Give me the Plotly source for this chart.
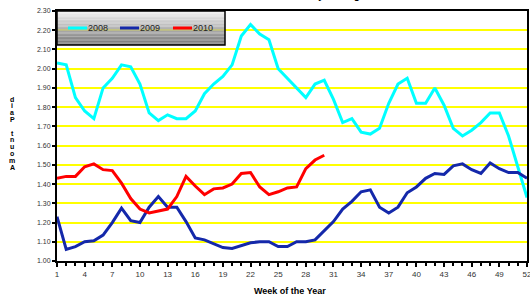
import plotly.graph_objects as go

weeks = list(range(1, 53))

y2008 = [2.03, 2.02, 1.85, 1.78, 1.74, 1.90, 1.95, 2.02, 2.01, 1.92,
         1.77, 1.73, 1.76, 1.74, 1.74, 1.78, 1.87, 1.92, 1.96, 2.02,
         2.17, 2.23, 2.18, 2.15, 2.00, 1.95, 1.90, 1.85, 1.92, 1.94,
         1.84, 1.72, 1.74, 1.67, 1.66, 1.69, 1.82, 1.92, 1.95, 1.82,
         1.82, 1.90, 1.81, 1.69, 1.65, 1.68, 1.72, 1.77, 1.77, 1.65,
         1.49, 1.33]
y2009 = [1.23, 1.06, 1.075, 1.10, 1.105, 1.135, 1.20, 1.275, 1.21, 1.20,
         1.28, 1.335, 1.28, 1.28, 1.205, 1.12, 1.11, 1.09, 1.07, 1.065,
         1.08, 1.095, 1.10, 1.10, 1.075, 1.075, 1.10, 1.10, 1.11, 1.16,
         1.205, 1.27, 1.31, 1.36, 1.37, 1.28, 1.25, 1.28, 1.355, 1.385,
         1.43, 1.455, 1.45, 1.495, 1.505, 1.475, 1.455, 1.51, 1.48, 1.46,
         1.46, 1.43]
y2010 = [1.43, 1.44, 1.44, 1.49, 1.505, 1.475, 1.47, 1.405, 1.325, 1.27,
         1.25, 1.26, 1.27, 1.335, 1.44, 1.39, 1.345, 1.375, 1.38, 1.40,
         1.455, 1.46, 1.385, 1.345, 1.36, 1.38, 1.385, 1.48, 1.525, 1.55]

series_names = ["2008", "2009", "2010"]
series_values = [y2008, y2009, y2010]
series_colors = ["#00FFFF", "#1428AA", "#FF0000"]

x_tick_vals = list(range(1, 53, 3))
y_tick_vals = [1.0 + 0.1 * i for i in range(14)]

title_text = "Amount Paid - Weekly Average"
x_title = "Week of the Year"
y_title_letters = list("Amount Paid")

# pixel geometry helpers (layout only)
L, R, T, B = 57, 3, 11, 36
W, H = 530, 297
PW, PH = W - L - R, H - T - B


def px(x):
    return (x - L) / PW


def py(y):
    return (H - B - y) / PH


fig = go.Figure()
for name, vals, col in zip(series_names, series_values, series_colors):
    fig.add_trace(go.Scatter(x=weeks[:len(vals)], y=vals, mode="lines", name=name,
                             line=dict(color=col, width=3), showlegend=False))

font_family = "Liberation Sans, Arial, sans-serif"

fig.update_layout(
    width=W, height=H,
    margin=dict(l=L, r=R, t=T, b=B, autoexpand=False),
    paper_bgcolor="white", plot_bgcolor="white",
    font=dict(family=font_family, color="black", size=8),
    showlegend=False,
)

fig.update_xaxes(
    range=[1, 52], tickvals=x_tick_vals, ticktext=[str(v) for v in x_tick_vals],
    showgrid=False, zeroline=False, automargin=False, ticklabeloverflow="allow",
    showline=True, linecolor="black", linewidth=2, mirror=True,
    ticks="outside", ticklen=4, tickcolor="black", tickwidth=1.5,
    minor=dict(dtick=1, tick0=1, ticks="outside", ticklen=3, tickcolor="black", tickwidth=1.5, showgrid=False),
    tickfont=dict(size=8, color="#333333"),
)
fig.update_yaxes(
    range=[1.0, 2.3], tickvals=y_tick_vals, ticktext=["%.2f" % v for v in y_tick_vals],
    showgrid=True, gridcolor="#FFFF00", gridwidth=2, zeroline=False, automargin=False,
    ticklabeloverflow="allow",
    showline=True, linecolor="black", linewidth=2, mirror=True,
    ticks="outside", ticklen=3, tickcolor="black", tickwidth=1.5,
    tickfont=dict(size=7, color="#333333"),
)

# legend box with gray gradient
x0, x1 = px(57), px(225)
ytop, ybot = py(11), py(45)
n = 24
for i in range(n):
    t = i / (n - 1)
    g = int(242 - t * (242 - 118))
    fig.add_shape(type="rect", xref="paper", yref="paper",
                  x0=x0, x1=x1,
                  y0=ytop - (i + 1) * (ytop - ybot) / n, y1=ytop - i * (ytop - ybot) / n,
                  fillcolor="rgb(%d,%d,%d)" % (g, g, g), line=dict(width=0), layer="above")
fig.add_shape(type="rect", xref="paper", yref="paper", x0=x0, x1=x1, y0=ybot, y1=ytop,
              line=dict(color="black", width=1.5), fillcolor="rgba(0,0,0,0)", layer="above")

leg_starts = [68, 120, 173]
leg_y = py(28)
for name, col, xs in zip(series_names, series_colors, leg_starts):
    fig.add_shape(type="line", xref="paper", yref="paper", x0=px(xs), x1=px(xs + 19),
                  y0=leg_y, y1=leg_y, line=dict(color=col, width=3), layer="above")
    fig.add_annotation(text=name, xref="paper", yref="paper", x=px(xs + 18), y=leg_y,
                       xanchor="left", yanchor="middle", showarrow=False,
                       font=dict(size=9, family=font_family, color="#222222"))

# title (mostly cut off at top)
fig.add_annotation(text="<b>" + title_text + "</b>", xref="paper", yref="paper",
                   x=px(292), y=py(3), xanchor="center", yanchor="bottom", showarrow=False,
                   font=dict(size=10, family=font_family))

# x-axis title
fig.add_annotation(text="<b>" + x_title + "</b>", xref="paper", yref="paper",
                   x=px(290), y=py(291), xanchor="center", yanchor="middle", showarrow=False,
                   font=dict(size=9, family=font_family))

# stacked y-axis title (letters reversed top to bottom)
letters = list(reversed(y_title_letters))
for i, ch in enumerate(letters):
    if ch == " ":
        continue
    fig.add_annotation(text="<b>" + ch + "</b>", xref="paper", yref="paper",
                       x=px(12), y=py(99 + i * 6.8), xanchor="center", yanchor="middle",
                       showarrow=False, font=dict(size=7, family=font_family))

fig.write_html("out.html", config={"displayModeBar": False},
               post_script="document.body.style.margin='0px';document.body.style.padding='0px';")
